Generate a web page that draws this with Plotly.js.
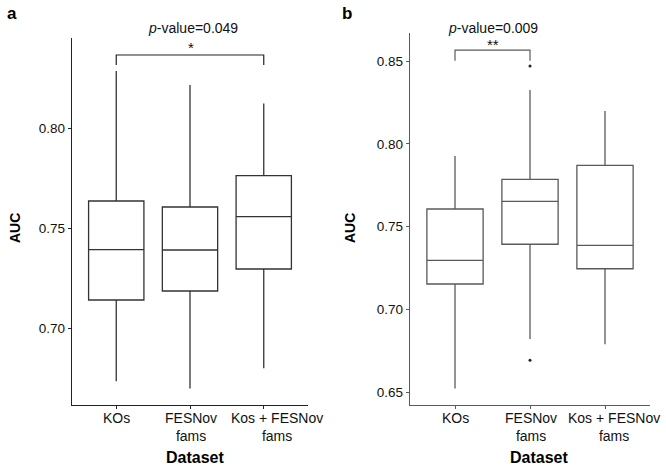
<!DOCTYPE html>
<html>
<head>
<meta charset="utf-8">
<script src="https://cdn.plot.ly/plotly-3.0.1.min.js"></script>
<style>html,body{margin:0;padding:0;background:#fff}#chart{width:666px;height:466px}</style>
</head>
<body>
<div id="chart"></div>
<script>
// Categories
const categories = ["KOs", "FESNov fams", "Kos + FESNov fams"];
// Tick labels as drawn (two lines)
const tickLabels = ["KOs", "FESNov<br>fams", "Kos + FESNov<br>fams"];

// Panel a box statistics
const a_lower  = [0.6734, 0.6698, 0.6799];
const a_q1     = [0.7140, 0.7185, 0.7295];
const a_median = [0.7392, 0.7390, 0.7557];
const a_q3     = [0.7635, 0.7605, 0.7762];
const a_upper  = [0.8285, 0.8215, 0.8122];

// Panel b box statistics
const b_lower  = [0.6522, 0.6822, 0.6790];
const b_q1     = [0.7154, 0.7394, 0.7246];
const b_median = [0.7297, 0.7653, 0.7387];
const b_q3     = [0.7607, 0.7786, 0.7871];
const b_upper  = [0.7927, 0.8325, 0.8199];

// Panel b outliers
const b_outlier_x = ["FESNov fams", "FESNov fams"];
const b_outlier_y = [0.8470, 0.6693];

// Significance brackets
const a_bracket_x = ["KOs", "KOs", "Kos + FESNov fams", "Kos + FESNov fams"];
const a_bracket_y = [0.8315, 0.8365, 0.8365, 0.8315];
const b_bracket_x = ["KOs", "KOs", "FESNov fams", "FESNov fams"];
const b_bracket_y = [0.8502, 0.8567, 0.8567, 0.8502];

// p-values and significance labels
const pvalues = ["0.049", "0.009"];
const stars = ["*", "**"];

const colA = '#333333', colB = '#5a5a5a';
const font = 'Liberation Sans, Arial, sans-serif';

function box(xa, ya, col, lo, q1, med, q3, up) {
  return {
    type: 'box', x: categories, q1: q1, median: med, q3: q3,
    lowerfence: lo, upperfence: up,
    xaxis: xa, yaxis: ya, width: 0.75, whiskerwidth: 0,
    fillcolor: 'white', line: {color: col, width: 1.3},
    boxpoints: false, hoverinfo: 'skip', showlegend: false
  };
}

const data = [
  box('x', 'y', colA, a_lower, a_q1, a_median, a_q3, a_upper),
  box('x2', 'y2', colB, b_lower, b_q1, b_median, b_q3, b_upper),
  {type: 'scatter', mode: 'markers', x: b_outlier_x, y: b_outlier_y, xaxis: 'x2', yaxis: 'y2',
   marker: {color: '#222', size: 3}, showlegend: false, hoverinfo: 'skip'},
  {type: 'scatter', mode: 'lines', x: a_bracket_x, y: a_bracket_y, xaxis: 'x', yaxis: 'y',
   line: {color: '#222', width: 1.2}, showlegend: false, hoverinfo: 'skip', cliponaxis: false},
  {type: 'scatter', mode: 'lines', x: b_bracket_x, y: b_bracket_y, xaxis: 'x2', yaxis: 'y2',
   line: {color: colB, width: 1.2}, showlegend: false, hoverinfo: 'skip', cliponaxis: false}
];

function xax(dom, col, anchor) {
  return {domain: dom, anchor: anchor, type: 'category', categoryorder: 'array', categoryarray: categories,
    range: [-0.6, 2.6], showline: true, linecolor: col, linewidth: 1.2, ticks: 'outside', ticklen: 3,
    tickcolor: col, showgrid: false, zeroline: false, showticklabels: false, fixedrange: true};
}
function yax(dom, col, range, tv, anchor) {
  return {domain: dom, anchor: anchor, range: range, tickvals: tv, ticktext: tv.map(v => v.toFixed(2)),
    showline: true, linecolor: col, linewidth: 1.2, ticks: 'outside', ticklen: 3, tickcolor: col,
    showgrid: false, zeroline: false, tickfont: {family: font, size: 13.5, color: '#111'}, fixedrange: true};
}

const W = 666, H = 466;

// x tick labels as annotations (third label sits slightly right of its tick, as in the original)
const shiftsA = [0, 1, 13], shiftsB = [0, 1, 9];
const tickAnn = [];
categories.forEach((c, i) => {
  tickAnn.push({text: tickLabels[i], xref: 'x', yref: 'paper', x: c, y: 1 - 408 / H, xshift: shiftsA[i],
    showarrow: false, xanchor: 'center', yanchor: 'top', align: 'center', font: {family: font, size: 14, color: '#111'}});
  tickAnn.push({text: tickLabels[i], xref: 'x2', yref: 'paper', x: c, y: 1 - 408 / H, xshift: shiftsB[i],
    showarrow: false, xanchor: 'center', yanchor: 'top', align: 'center', font: {family: font, size: 14, color: '#111'}});
});

const layout = {
  width: W, height: H, margin: {l: 0, r: 0, t: 0, b: 0},
  paper_bgcolor: 'white', plot_bgcolor: 'white', showlegend: false,
  xaxis: xax([72 / W, 308 / W], '#222', 'y'),
  yaxis: yax([(H - 405) / H, (H - 38) / H], '#222', [0.6615, 0.845], [0.70, 0.75, 0.80], 'x'),
  xaxis2: xax([410 / W, 650 / W], colB, 'y2'),
  yaxis2: yax([(H - 405) / H, (H - 33) / H], colB, [0.6423, 0.867], [0.65, 0.70, 0.75, 0.80, 0.85], 'x2'),
  annotations: tickAnn.concat([
    {text: '<b>a</b>', xref: 'paper', yref: 'paper', x: 5 / W, y: 1 - 13 / H, xanchor: 'left', yanchor: 'middle', showarrow: false, font: {family: font, size: 17, color: '#000'}},
    {text: '<b>b</b>', xref: 'paper', yref: 'paper', x: 340 / W, y: 1 - 13 / H, xanchor: 'left', yanchor: 'middle', showarrow: false, font: {family: font, size: 17, color: '#000'}},
    {text: '<i>p</i>-value=' + pvalues[0], xref: 'paper', yref: 'paper', x: 193 / W, y: 1 - 28 / H, showarrow: false, xanchor: 'center', yanchor: 'middle', font: {family: font, size: 14, color: '#111'}},
    {text: stars[0], xref: 'paper', yref: 'paper', x: 191 / W, y: 1 - 48 / H, showarrow: false, xanchor: 'center', yanchor: 'middle', font: {family: font, size: 15, color: '#111'}},
    {text: '<i>p</i>-value=' + pvalues[1], xref: 'paper', yref: 'paper', x: 493 / W, y: 1 - 28 / H, showarrow: false, xanchor: 'center', yanchor: 'middle', font: {family: font, size: 14, color: '#111'}},
    {text: stars[1], xref: 'paper', yref: 'paper', x: 492.5 / W, y: 1 - 44 / H, showarrow: false, xanchor: 'center', yanchor: 'middle', font: {family: font, size: 15, color: '#111'}},
    {text: '<b>AUC</b>', xref: 'paper', yref: 'paper', x: 15 / W, y: 1 - 228 / H, textangle: -90, showarrow: false, xanchor: 'center', yanchor: 'middle', font: {family: font, size: 14, color: '#000'}},
    {text: '<b>AUC</b>', xref: 'paper', yref: 'paper', x: 350 / W, y: 1 - 228 / H, textangle: -90, showarrow: false, xanchor: 'center', yanchor: 'middle', font: {family: font, size: 14, color: '#000'}},
    {text: '<b>Dataset</b>', xref: 'paper', yref: 'paper', x: 195 / W, y: 1 - 457 / H, showarrow: false, xanchor: 'center', yanchor: 'middle', font: {family: font, size: 16, color: '#000'}},
    {text: '<b>Dataset</b>', xref: 'paper', yref: 'paper', x: 539 / W, y: 1 - 457 / H, showarrow: false, xanchor: 'center', yanchor: 'middle', font: {family: font, size: 16, color: '#000'}}
  ])
};

Plotly.newPlot('chart', data, layout, {staticPlot: true, displayModeBar: false});
</script>
</body>
</html>
